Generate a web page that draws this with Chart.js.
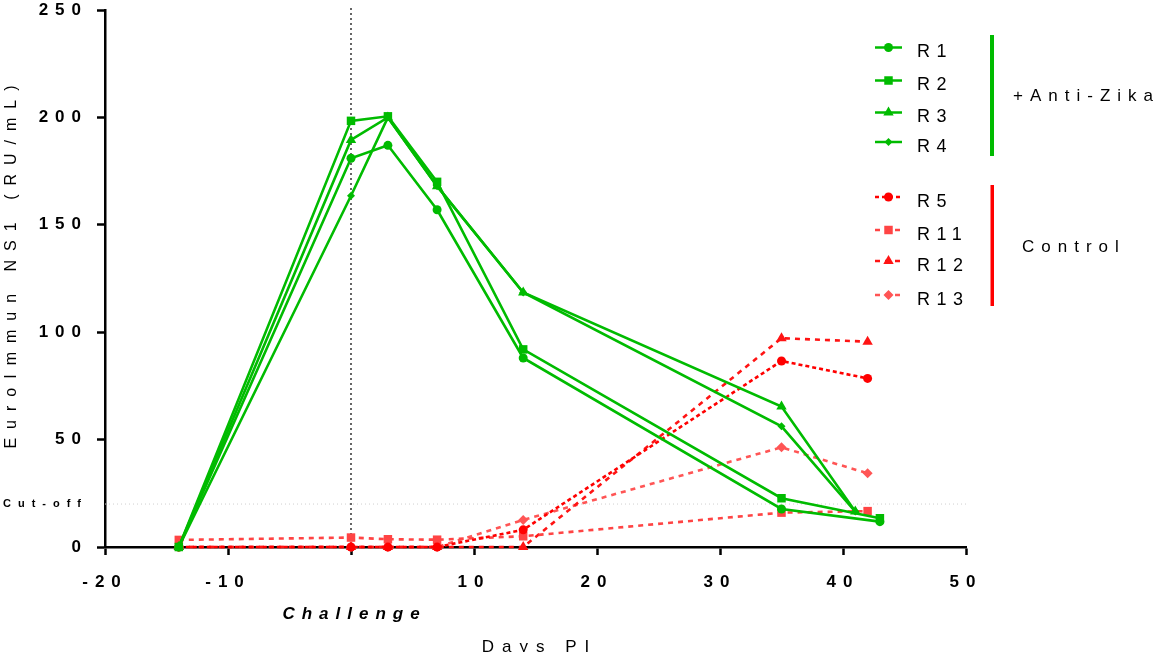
<!DOCTYPE html>
<html>
<head>
<meta charset="utf-8">
<script src="https://cdn.jsdelivr.net/npm/chart.js@4.4.0/dist/chart.umd.min.js"></script>
<style>
  html, body { margin: 0; padding: 0; background: #fff; overflow: hidden; }
  #wrap { width: 1154px; height: 652px; }
</style>
</head>
<body>
<div id="wrap"><canvas id="chart" width="1154" height="652"></canvas></div>
<script>
// --- values ---
const daysR1R2 = [-14, 0, 3, 7, 14, 35, 43];
const daysR3R4 = [-14, 0, 3, 7, 14, 35, 41];
const daysControl = [-14, 0, 3, 7, 14, 35, 42];

const r1 = [0, 181, 187, 157, 88, 17.7, 11.8];
const r2 = [0, 198.4, 200.5, 170, 92, 22.7, 13.4];
const r3 = [0, 189.5, 200, 168, 118.5, 65.4, 16.5];
const r4 = [0, 163.5, 200, 168, 118.5, 56.2, 16.5];

const r5 = [0, 0, 0, 0, 8, 86.6, 78.5];
const r11 = [3.3, 4.4, 3.6, 3.4, 5, 16, 16.7];
const r12 = [0, 0, 0, 0, 0, 97.2, 95.6];
const r13 = [0, 0, 0, 0, 12.6, 46.4, 34.3];

const xTicks = [-20, -10, 0, 10, 20, 30, 40, 50];
const yTicks = [0, 50, 100, 150, 200, 250];
const cutOff = 20;
const challengeDay = 0;

const groupLabels = ['+Anti-Zika', 'Control'];
const yTitle = 'EuroImmun NS1 (RU/mL)';
const xTitle = 'Days PI';
const challengeLabel = 'Challenge';

// --- styles ---
const GREEN = '#00bb00';
const FONT = "'Liberation Sans', Arial, sans-serif";
const SPACING = '7px';

const series = [
  { label: 'R1', days: daysR1R2, values: r1, color: GREEN, style: 'circle', radius: 4.5, dash: [] },
  { label: 'R2', days: daysR1R2, values: r2, color: GREEN, style: 'rect', radius: 6, dash: [] },
  { label: 'R3', days: daysR3R4, values: r3, color: GREEN, style: 'triangle', radius: 6, dash: [] },
  { label: 'R4', days: daysR3R4, values: r4, color: GREEN, style: 'rectRot', radius: 4, dash: [] },
  { label: 'R5', days: daysControl, values: r5, color: '#ff0000', style: 'circle', radius: 4.5, dash: [4, 3] },
  { label: 'R11', days: daysControl, values: r11, color: '#ff4444', style: 'rect', radius: 6, dash: [5, 5] },
  { label: 'R12', days: daysControl, values: r12, color: '#ff1414', style: 'triangle', radius: 6, dash: [5, 5] },
  { label: 'R13', days: daysControl, values: r13, color: '#ff5555', style: 'rectRot', radius: 5, dash: [5, 5] }
];

Chart.defaults.font.family = FONT;
Chart.defaults.color = '#000';

// texte espacé comme dans la figure
function spacedText(ctx, text, x, y, spacing, align) {
  ctx.letterSpacing = spacing + 'px';
  const w = ctx.measureText(text).width - spacing;
  let sx = x;
  if (align === 'center') sx = x - w / 2;
  ctx.textAlign = 'left';
  ctx.fillText(text, sx, y);
}

const decor = {
  id: 'decor',
  beforeLayout(chart) { chart.ctx.letterSpacing = SPACING; },
  beforeDraw(chart) { chart.ctx.letterSpacing = SPACING; },
  beforeDatasetsDraw(chart) {
    const { ctx, chartArea, scales } = chart;
    ctx.save();
    // ligne "Challenge"
    const cx = scales.x.getPixelForValue(challengeDay);
    ctx.strokeStyle = '#000';
    ctx.lineWidth = 1.2;
    ctx.setLineDash([2, 3]);
    ctx.beginPath();
    ctx.moveTo(cx, chartArea.top - 2);
    ctx.lineTo(cx, chartArea.bottom);
    ctx.stroke();
    // ligne cut-off
    const cy = scales.y.getPixelForValue(cutOff);
    ctx.strokeStyle = '#cfcfcf';
    ctx.lineWidth = 1;
    ctx.setLineDash([1, 3]);
    ctx.beginPath();
    ctx.moveTo(chartArea.left, cy);
    ctx.lineTo(chartArea.right, cy);
    ctx.stroke();
    ctx.restore();
  },
  afterDraw(chart) {
    const { ctx, scales } = chart;
    ctx.save();
    ctx.fillStyle = '#000';
    ctx.textBaseline = 'middle';

    // titres des axes
    ctx.font = '17px ' + FONT;
    spacedText(ctx, xTitle, (scales.x.left + scales.x.right) / 2, 647, 8, 'center');
    ctx.font = 'italic bold 17px ' + FONT;
    spacedText(ctx, challengeLabel, scales.x.getPixelForValue(challengeDay), 614, 7, 'center');

    ctx.save();
    ctx.translate(12, 267);
    ctx.rotate(-Math.PI / 2);
    ctx.font = '16px ' + FONT;
    spacedText(ctx, yTitle, 0, 0, 9, 'center');
    ctx.restore();

    // légende
    const markerY = [47.5, 80.5, 112.5, 142, 197, 230, 261, 295];
    chart.data.datasets.forEach((ds, i) => {
      const y = markerY[i];
      ctx.strokeStyle = ds.borderColor;
      ctx.fillStyle = ds.borderColor;
      ctx.lineWidth = 2.5;
      ctx.setLineDash(ds.borderDash);
      ctx.beginPath();
      ctx.moveTo(875, y);
      ctx.lineTo(902, y);
      ctx.stroke();
      ctx.setLineDash([]);
      Chart.helpers.drawPoint(ctx, { pointStyle: ds.pointStyle, radius: ds.pointRadius, rotation: 0, borderWidth: 0 }, 888.5, y);
      ctx.fillStyle = '#000';
      ctx.font = '18px ' + FONT;
      spacedText(ctx, ds.label, 917, y + 5, 6.5, 'left');
    });

    // barres de groupe
    ctx.fillStyle = GREEN;
    ctx.fillRect(990, 35, 4, 121);
    ctx.fillStyle = '#ff0000';
    ctx.fillRect(990.5, 185, 3.5, 121);

    ctx.fillStyle = '#000';
    ctx.font = '17px ' + FONT;
    spacedText(ctx, groupLabels[0], 1013, 96, 7, 'left');
    spacedText(ctx, groupLabels[1], 1022, 247, 7, 'left');
    ctx.restore();
  }
};

const ctx = document.getElementById('chart').getContext('2d');
const chart = new Chart(ctx, {
  type: 'line',
  data: {
    datasets: series.map(s => ({
      label: s.label,
      data: s.days.map((d, i) => ({ x: d, y: s.values[i] })),
      borderColor: s.color,
      backgroundColor: s.color,
      borderWidth: 2.6,
      borderDash: s.dash,
      pointStyle: s.style,
      pointRadius: s.radius,
      pointBackgroundColor: s.color,
      pointBorderWidth: 0,
      tension: 0,
      fill: false,
      clip: false
    }))
  },
  options: {
    responsive: false,
    animation: false,
    devicePixelRatio: 1,
    layout: { padding: { top: 10, right: 188, left: 0, bottom: 0 } },
    plugins: { legend: { display: false }, tooltip: { enabled: false } },
    scales: {
      x: {
        type: 'linear',
        min: -20, max: 50,
        afterBuildTicks: scale => { scale.ticks = xTicks.map(v => ({ value: v })); },
        afterFit: scale => { scale.height = 105; },
        grid: { drawOnChartArea: false, drawTicks: true, tickLength: 8, tickWidth: 2.5, tickColor: '#000' },
        border: { color: '#000', width: 2.5 },
        ticks: {
          autoSkip: false, maxRotation: 0, padding: 17, color: '#000',
          font: { size: 17, weight: 'bold' },
          callback: v => (v === challengeDay ? '' : v)
        }
      },
      y: {
        min: 0, max: 250,
        afterBuildTicks: scale => {
          scale.ticks = yTicks.concat([cutOff]).sort((a, b) => a - b).map(v => ({ value: v }));
        },
        afterFit: scale => {
          scale.width = 105;
          scale.paddingTop = 0;
          scale.paddingBottom = 0;
        },
        grid: {
          drawOnChartArea: false, drawTicks: true, tickLength: 8, tickWidth: 2.5,
          tickColor: c => (c.tick && c.tick.value === cutOff ? 'rgba(0,0,0,0)' : '#000')
        },
        border: { color: '#000', width: 2.5 },
        ticks: {
          autoSkip: false, padding: 9, color: '#000',
          font: c => (c.tick && c.tick.value === cutOff ? { size: 11, weight: 'bold' } : { size: 17, weight: 'bold' }),
          callback: v => (v === cutOff ? 'Cut-off' : v)
        }
      }
    }
  },
  plugins: [decor]
});
</script>
</body>
</html>
